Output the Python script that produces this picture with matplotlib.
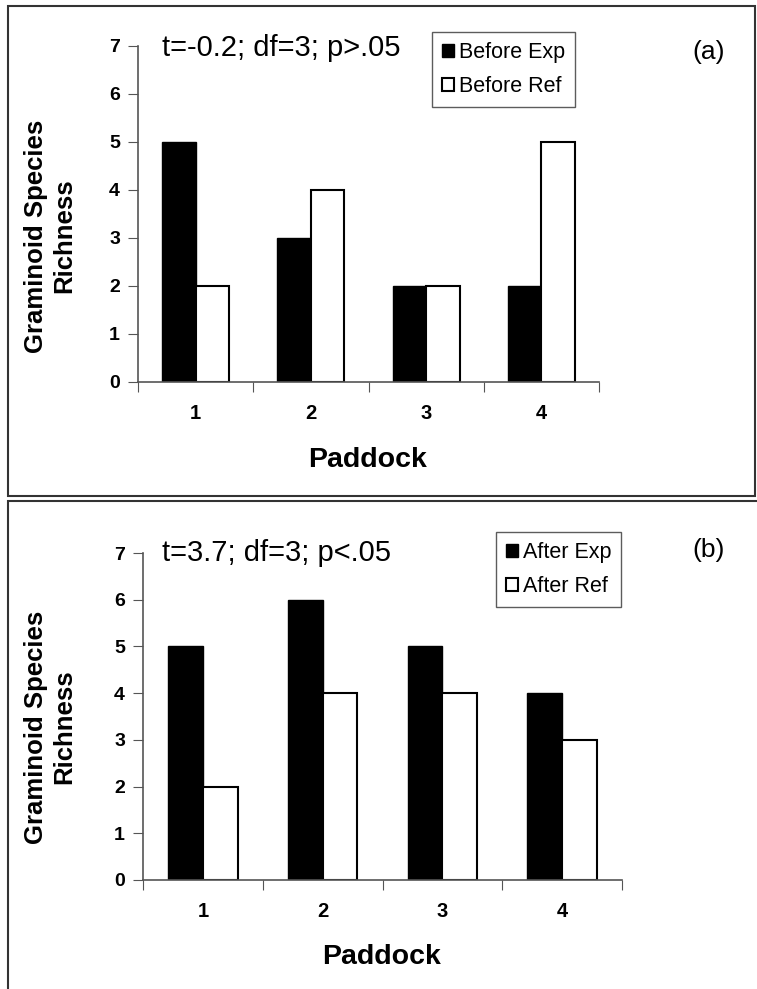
import matplotlib
matplotlib.use("Agg")
import matplotlib.pyplot as plt
from matplotlib.patches import Rectangle
import numpy as np

plt.rcParams['font.family'] = ['Liberation Sans', 'DejaVu Sans']

paddocks = ['1', '2', '3', '4']
before_exp = [5, 3, 2, 2]
before_ref = [2, 4, 2, 5]
after_exp = [5, 6, 5, 4]
after_ref = [2, 4, 4, 3]
stats_a = "t=-0.2; df=3; p>.05"
stats_b = "t=3.7; df=3; p<.05"

W, H = 757, 989
fig = plt.figure(figsize=(W / 100, H / 100), dpi=100)


def px_axes(left, top, right, bottom):
    return fig.add_axes([left / W, 1 - bottom / H, (right - left) / W, (bottom - top) / H])


def panel_box(x0, y0, x1, y1):
    fig.patches.append(Rectangle((x0 / W, 1 - y1 / H), (x1 - x0) / W, (y1 - y0) / H,
                                 transform=fig.transFigure, fill=False,
                                 edgecolor='#333333', linewidth=1.5, zorder=0))


def draw_panel(ax, exp, ref, labels, stats, tag, legend_pos, ylab_y, pad_xy, stats_y, tag_y):
    x = np.arange(len(paddocks)) + 0.5
    w = 0.29
    b1 = ax.bar(x - w / 2, exp, w, color='black', edgecolor='black', linewidth=1, label=labels[0])
    b2 = ax.bar(x + w / 2, ref, w, color='white', edgecolor='black', linewidth=1.5, label=labels[1])
    ax.set_xlim(0, 4)
    ax.set_ylim(0, 7)
    ax.set_yticks(range(8))
    ax.set_xticks(range(5))
    ax.set_xticklabels([])
    ax.set_xticks(x, minor=True)
    ax.set_xticklabels(paddocks, minor=True)
    ax.tick_params(axis='x', which='minor', length=0, pad=16, labelsize=14.5)
    ax.tick_params(axis='x', which='major', length=7, direction='out', color='#555555')
    ax.tick_params(axis='y', length=7, direction='out', color='#555555', pad=6, labelsize=14)
    for t in ax.get_xticklabels(minor=True) + ax.get_yticklabels():
        t.set_fontweight('bold')
    for s in ['top', 'right']:
        ax.spines[s].set_visible(False)
    for s in ['left', 'bottom']:
        ax.spines[s].set_color('#555555')
        ax.spines[s].set_linewidth(1.2)

    fig.text(50 / W, 1 - ylab_y / H, "Graminoid Species\nRichness", rotation=90,
             ha='center', va='center', multialignment='center',
             fontsize=18.5, fontweight='bold')
    fig.text(pad_xy[0] / W, 1 - pad_xy[1] / H, "Paddock", ha='center', va='center',
             fontsize=20.5, fontweight='bold')
    fig.text(162 / W, 1 - stats_y / H, stats, ha='left', va='center', fontsize=21)
    fig.text(709 / W, 1 - tag_y / H, tag, ha='center', va='center', fontsize=19)

    lx, ly = legend_pos
    leg = ax.legend(handles=[b1, b2], loc='upper left',
                    bbox_to_anchor=(lx / W, 1 - ly / H), bbox_transform=fig.transFigure,
                    frameon=True, fancybox=False, edgecolor='#333333', fontsize=15.5,
                    handlelength=0.55, handleheight=0.55, handletextpad=0.25,
                    borderpad=0.45, labelspacing=0.62, borderaxespad=0)
    leg.get_frame().set_linewidth(1.0)


panel_box(8, 6, 755, 496)
panel_box(8, 501, 770, 1000)

ax_a = px_axes(138, 46, 599, 382)
draw_panel(ax_a, before_exp, before_ref, ["Before Exp", "Before Ref"], stats_a, "(a)",
           (432, 32), 236, (368, 460), 48, 52)

ax_b = px_axes(143, 553, 622, 880)
draw_panel(ax_b, after_exp, after_ref, ["After Exp", "After Ref"], stats_b, "(b)",
           (496, 532), 727, (382, 957), 553, 550)

fig.savefig("out.png", dpi=100)
